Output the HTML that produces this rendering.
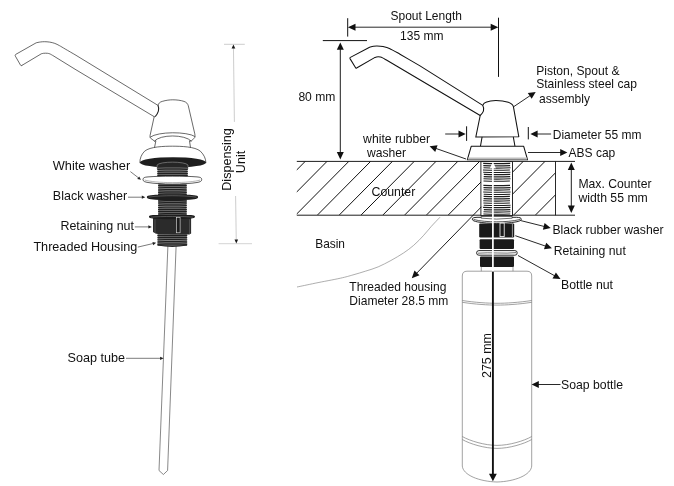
<!DOCTYPE html>
<html><head><meta charset="utf-8"><title>Soap dispenser diagram</title>
<style>
html,body{margin:0;padding:0;background:#fff;}
body{width:674px;height:486px;overflow:hidden;font-family:"Liberation Sans",sans-serif;}
svg{display:block;}
svg text{font-family:"Liberation Sans",sans-serif;fill:#111;}
</style></head><body>
<svg width="674" height="486" viewBox="0 0 674 486">
<defs>
<pattern id="thr" x="0" y="0" width="10" height="1.9" patternUnits="userSpaceOnUse">
<rect width="10" height="1.9" fill="#262626"/><rect y="0.2" width="10" height="0.55" fill="#8a8a8a"/>
</pattern>
<pattern id="thr2" x="0" y="162" width="10" height="2.15" patternUnits="userSpaceOnUse">
<rect width="10" height="2.15" fill="#fff"/><rect y="0.5" width="10" height="1.15" fill="#333"/>
</pattern>
<clipPath id="cclip"><rect x="296.8" y="161.4" width="258.7" height="53.9"/></clipPath>
</defs>
<rect width="674" height="486" fill="#fff"/>
<g id="all" opacity="0.999">

<path d="M167.9,246 L159,470.5 L163.4,474.5 L167.6,470.5 L176.1,246" stroke="#555" stroke-width="0.7" fill="#fff"/>
<rect x="157.8" y="233" width="29.0" height="12.199999999999989" fill="#9a9a9a"/>
<path d="M157.9,233.65 Q172.3,234.15 186.7,233.65" stroke="#212121" stroke-width="1.3" stroke-linecap="round" fill="none"/>
<path d="M157.9,235.50 Q172.3,236.00 186.7,235.50" stroke="#212121" stroke-width="1.3" stroke-linecap="round" fill="none"/>
<path d="M157.9,237.35 Q172.3,237.85 186.7,237.35" stroke="#212121" stroke-width="1.3" stroke-linecap="round" fill="none"/>
<path d="M157.9,239.20 Q172.3,239.70 186.7,239.20" stroke="#212121" stroke-width="1.3" stroke-linecap="round" fill="none"/>
<path d="M157.9,241.05 Q172.3,241.55 186.7,241.05" stroke="#212121" stroke-width="1.3" stroke-linecap="round" fill="none"/>
<path d="M157.9,242.90 Q172.3,243.40 186.7,242.90" stroke="#212121" stroke-width="1.3" stroke-linecap="round" fill="none"/>
<path d="M157.9,244.75 Q172.3,245.25 186.7,244.75" stroke="#212121" stroke-width="1.3" stroke-linecap="round" fill="none"/>
<path d="M157.6,244.6 Q172.3,247.4 187,244.6 L187,245.6 Q172.3,248.4 157.6,245.6Z" fill="#262626"/>
<rect x="158.5" y="181" width="27.900000000000006" height="35" fill="#9a9a9a"/>
<path d="M158.6,181.65 Q172.4,182.15 186.3,181.65" stroke="#212121" stroke-width="1.3" stroke-linecap="round" fill="none"/>
<path d="M158.6,183.50 Q172.4,184.00 186.3,183.50" stroke="#212121" stroke-width="1.3" stroke-linecap="round" fill="none"/>
<path d="M158.6,185.35 Q172.4,185.85 186.3,185.35" stroke="#212121" stroke-width="1.3" stroke-linecap="round" fill="none"/>
<path d="M158.6,187.20 Q172.4,187.70 186.3,187.20" stroke="#212121" stroke-width="1.3" stroke-linecap="round" fill="none"/>
<path d="M158.6,189.05 Q172.4,189.55 186.3,189.05" stroke="#212121" stroke-width="1.3" stroke-linecap="round" fill="none"/>
<path d="M158.6,190.90 Q172.4,191.40 186.3,190.90" stroke="#212121" stroke-width="1.3" stroke-linecap="round" fill="none"/>
<path d="M158.6,192.75 Q172.4,193.25 186.3,192.75" stroke="#212121" stroke-width="1.3" stroke-linecap="round" fill="none"/>
<path d="M158.6,194.60 Q172.4,195.10 186.3,194.60" stroke="#212121" stroke-width="1.3" stroke-linecap="round" fill="none"/>
<path d="M158.6,196.45 Q172.4,196.95 186.3,196.45" stroke="#212121" stroke-width="1.3" stroke-linecap="round" fill="none"/>
<path d="M158.6,198.30 Q172.4,198.80 186.3,198.30" stroke="#212121" stroke-width="1.3" stroke-linecap="round" fill="none"/>
<path d="M158.6,200.15 Q172.4,200.65 186.3,200.15" stroke="#212121" stroke-width="1.3" stroke-linecap="round" fill="none"/>
<path d="M158.6,202.00 Q172.4,202.50 186.3,202.00" stroke="#212121" stroke-width="1.3" stroke-linecap="round" fill="none"/>
<path d="M158.6,203.85 Q172.4,204.35 186.3,203.85" stroke="#212121" stroke-width="1.3" stroke-linecap="round" fill="none"/>
<path d="M158.6,205.70 Q172.4,206.20 186.3,205.70" stroke="#212121" stroke-width="1.3" stroke-linecap="round" fill="none"/>
<path d="M158.6,207.55 Q172.4,208.05 186.3,207.55" stroke="#212121" stroke-width="1.3" stroke-linecap="round" fill="none"/>
<path d="M158.6,209.40 Q172.4,209.90 186.3,209.40" stroke="#212121" stroke-width="1.3" stroke-linecap="round" fill="none"/>
<path d="M158.6,211.25 Q172.4,211.75 186.3,211.25" stroke="#212121" stroke-width="1.3" stroke-linecap="round" fill="none"/>
<path d="M158.6,213.10 Q172.4,213.60 186.3,213.10" stroke="#212121" stroke-width="1.3" stroke-linecap="round" fill="none"/>
<path d="M158.6,214.95 Q172.4,215.45 186.3,214.95" stroke="#212121" stroke-width="1.3" stroke-linecap="round" fill="none"/>
<path d="M21.9,65.4 C21.3,65.8 20.9,65.7 20.5,65.1 L15.4,56.2 C15,55.4 15.1,54.8 15.9,54.3 L36.2,42.8 C36.88,42.67 38.92,42.18 40.30,42.00 C41.68,41.82 42.93,41.68 44.50,41.70 C46.07,41.72 47.98,41.82 49.70,42.10 C51.42,42.38 53.18,42.82 54.80,43.40 C56.42,43.98 57.67,44.67 59.40,45.60 C61.13,46.53 62.60,47.48 65.20,49.00 C67.80,50.52 73.37,53.75 75.00,54.70 L158,105.4 M21.9,65.4 L41.3,53.8 C41.67,53.72 42.80,53.40 43.50,53.30 C44.20,53.20 44.82,53.20 45.50,53.20 C46.18,53.20 46.87,53.18 47.60,53.30 C48.33,53.42 49.00,53.52 49.90,53.90 C50.80,54.28 52.48,55.32 53.00,55.60 L75,69.2 L154.4,116.8" stroke="#2a2a2a" stroke-width="0.7" fill="none" stroke-linejoin="round" stroke-linecap="round"/>
<path d="M158,105.4 C158.4,103.2 160,102 162.2,101.4 C166,100.2 170,99.8 172.8,99.8 C177,99.8 181,100.4 184,101.4 C186.6,102.3 187.7,103.7 188.3,105.8 L194.8,133.9 C195.2,136.5 195,137.5 194.1,138.2 L191.2,141.1 L189.5,140.8 L190.5,147.6 M154.2,116.6 L150.1,135.3 C149.9,137 150,137.6 150.6,138.2 L154.5,141.1 L155.9,140.8 L154.5,147.6" stroke="#2a2a2a" stroke-width="0.7" fill="none" stroke-linejoin="round" stroke-linecap="round"/>
<path d="M158,105.4 C159.4,108.5 158.6,112.5 155.2,116.6" stroke="#222" stroke-width="1.1" fill="none"/>
<path d="M150.4,137 C158,131.4 187,131.4 194.9,136.4 M154.5,141 C160,134.2 185,134.2 191.2,141" stroke="#2a2a2a" stroke-width="0.7" fill="none" stroke-linejoin="round" stroke-linecap="round"/>
<path d="M139.9,162.7 C139.8,158.4 141.2,154.8 144.6,151.2 C150,146.6 164,146.2 172.5,146.2 C181,146.2 195,146.6 200.4,151.2 C204,154.8 205.8,158.4 205.9,162.7" stroke="#2a2a2a" stroke-width="0.7" fill="#fff" stroke-linejoin="round" stroke-linecap="round"/>
<ellipse cx="173" cy="162.4" rx="33.1" ry="5.2" fill="#1e1e1e"/>
<path d="M157.1,169 L157.1,165 C160,161.2 185,161.2 188,165 L188,169Z" fill="#262626" stroke="#9a9a9a" stroke-width="0.6"/>
<rect x="157.7" y="167.2" width="29.700000000000017" height="10.0" fill="#9a9a9a"/>
<path d="M157.8,167.85 Q172.6,168.35 187.3,167.85" stroke="#212121" stroke-width="1.3" stroke-linecap="round" fill="none"/>
<path d="M157.8,169.70 Q172.6,170.20 187.3,169.70" stroke="#212121" stroke-width="1.3" stroke-linecap="round" fill="none"/>
<path d="M157.8,171.55 Q172.6,172.05 187.3,171.55" stroke="#212121" stroke-width="1.3" stroke-linecap="round" fill="none"/>
<path d="M157.8,173.40 Q172.6,173.90 187.3,173.40" stroke="#212121" stroke-width="1.3" stroke-linecap="round" fill="none"/>
<path d="M157.8,175.25 Q172.6,175.75 187.3,175.25" stroke="#212121" stroke-width="1.3" stroke-linecap="round" fill="none"/>
<path d="M157.8,177.10 Q172.6,177.60 187.3,177.10" stroke="#212121" stroke-width="1.3" stroke-linecap="round" fill="none"/>
<path d="M143,179.6 C143,177.6 144.5,177.2 148,176.9 C160,175.9 185,175.9 197,176.9 C200.3,177.2 201.7,177.6 201.7,179.6 C201.7,181.4 200,182 197,182.5 C185,184.6 160,184.6 148,182.5 C145,182 143,181.4 143,179.6Z" fill="#fff" stroke="#2a2a2a" stroke-width="0.75"/>
<path d="M144.6,180 C150,181.6 160,182.6 172.3,182.6 C185,182.6 195,181.6 200.2,180" stroke="#777" stroke-width="0.55" fill="none"/>
<path d="M146.8,197 C146.8,195.6 148.5,195.4 151,195.2 C162,194.4 183,194.4 194,195.2 C196.5,195.4 198.1,195.6 198.1,197 C198.1,198.4 196.5,198.9 194,199.3 C183,200.6 162,200.6 151,199.3 C148.5,198.9 146.8,198.4 146.8,197Z" fill="#1e1e1e"/>
<path d="M148.6,197.2 C155,196 165,195.7 172.3,195.7 C180,195.7 190,196 196.4,197.2" stroke="#8a8a8a" stroke-width="0.5" fill="none"/>
<path d="M153,218 L191.1,218 L191.1,233.4 L189.4,234.5 L156,233.8 L153,232Z" fill="#2b2b2b"/>
<path d="M148.9,216.8 C148.9,215.6 150.5,215.3 153,215.1 C164,214.5 180,214.5 191,215.1 C193.5,215.3 195,215.6 195,216.8 C195,218 193,218.3 191.2,218.6 C180,219.6 164,219.6 152.8,218.6 C150.6,218.3 148.9,218 148.9,216.8Z" fill="#1c1c1c"/>
<path d="M150.8,217.2 C160,216.2 186,216.2 193.2,217.2" stroke="#8a8a8a" stroke-width="0.5" fill="none"/>
<rect x="176.6" y="217.6" width="3.5" height="15.2" fill="#1c1c1c" stroke="#e6e6e6" stroke-width="0.6"/>
<line x1="155" y1="219.4" x2="155" y2="233" stroke="#777" stroke-width="0.5"/>
<line x1="189.6" y1="219.4" x2="189.6" y2="234" stroke="#777" stroke-width="0.5"/>
<text x="52.8" y="169.7" font-size="12.6" textLength="77.4" lengthAdjust="spacingAndGlyphs" >White washer</text>
<text x="52.8" y="200.4" font-size="12.6" textLength="74.4" lengthAdjust="spacingAndGlyphs" >Black washer</text>
<text x="60.4" y="230.2" font-size="12.6" textLength="73.6" lengthAdjust="spacingAndGlyphs" >Retaining nut</text>
<text x="33.4" y="250.9" font-size="12.6" textLength="103.9" lengthAdjust="spacingAndGlyphs" >Threaded Housing</text>
<text x="67.5" y="361.5" font-size="12.6" textLength="57.5" lengthAdjust="spacingAndGlyphs" >Soap tube</text>
<line x1="130.40" y1="171.60" x2="138.79" y2="178.09" stroke="#222" stroke-width="0.6"/><polygon points="141.00,179.80 137.25,178.92 139.21,176.39" fill="#222"/>
<line x1="128.00" y1="197.20" x2="142.50" y2="197.20" stroke="#222" stroke-width="0.6"/><polygon points="145.30,197.20 141.80,198.80 141.80,195.60" fill="#222"/>
<line x1="134.80" y1="226.90" x2="149.10" y2="226.90" stroke="#222" stroke-width="0.6"/><polygon points="151.90,226.90 148.40,228.50 148.40,225.30" fill="#222"/>
<line x1="137.80" y1="247.10" x2="153.47" y2="243.44" stroke="#222" stroke-width="0.6"/><polygon points="156.20,242.80 153.16,245.15 152.43,242.04" fill="#222"/>
<line x1="126.00" y1="358.30" x2="160.80" y2="358.30" stroke="#222" stroke-width="0.6"/><polygon points="163.60,358.30 160.10,359.90 160.10,356.70" fill="#222"/>
<line x1="224" y1="44.3" x2="244.8" y2="44.3" stroke="#9a9a9a" stroke-width="0.5"/>
<line x1="218.6" y1="243.7" x2="252" y2="243.7" stroke="#a8a8a8" stroke-width="0.5"/>
<line x1="234.4" y1="121.9" x2="233.45" y2="47" stroke="#9a9a9a" stroke-width="0.5"/>
<polygon points="233.4,44.6 231.6,48.6 235.3,48.6" fill="#1a1a1a"/>
<line x1="235.6" y1="196" x2="236.25" y2="240.5" stroke="#9a9a9a" stroke-width="0.5"/>
<polygon points="236.3,243.5 234.5,239.6 238.1,239.6" fill="#1a1a1a"/>
<text transform="translate(230.6,159.5) rotate(-90)" text-anchor="middle" font-size="12.6" textLength="62.5" lengthAdjust="spacingAndGlyphs">Dispensing</text>
<text transform="translate(245.4,162) rotate(-90)" text-anchor="middle" font-size="12.6">Unit</text>
<g clip-path="url(#cclip)" stroke="#111" stroke-width="1.0">
<line x1="262.0" y1="161" x2="208.6" y2="214.9"/>
<line x1="283.8" y1="161" x2="230.4" y2="214.9"/>
<line x1="305.6" y1="161" x2="252.2" y2="214.9"/>
<line x1="327.4" y1="161" x2="274.0" y2="214.9"/>
<line x1="349.2" y1="161" x2="295.8" y2="214.9"/>
<line x1="371.0" y1="161" x2="317.6" y2="214.9"/>
<line x1="392.8" y1="161" x2="339.4" y2="214.9"/>
<line x1="414.6" y1="161" x2="361.2" y2="214.9"/>
<line x1="436.4" y1="161" x2="383.0" y2="214.9"/>
<line x1="458.2" y1="161" x2="404.8" y2="214.9"/>
<line x1="480.0" y1="161" x2="426.6" y2="214.9"/>
<line x1="501.8" y1="161" x2="448.4" y2="214.9"/>
<line x1="523.6" y1="161" x2="512.5" y2="172.2"/>
<line x1="545.4" y1="161" x2="492.0" y2="214.9"/>
<line x1="567.2" y1="161" x2="513.8" y2="214.9"/>
<line x1="589.0" y1="161" x2="535.6" y2="214.9"/>
</g>
<line x1="296.8" y1="161.4" x2="575" y2="161.4" stroke="#111" stroke-width="0.95"/>
<line x1="296.8" y1="215.2" x2="575" y2="215.2" stroke="#111" stroke-width="0.95"/>
<line x1="555.5" y1="161.4" x2="555.5" y2="215.3" stroke="#111" stroke-width="0.9"/>
<path d="M440.0,217.2 C438.5,218.8 433.9,223.5 431.2,226.5 C428.5,229.5 426.6,232.2 423.7,235.3 C420.8,238.5 417.0,242.5 413.6,245.4 C410.2,248.3 407.3,250.5 403.5,253.0 C399.7,255.5 395.1,258.2 390.9,260.5 C386.7,262.8 382.5,265.0 378.3,266.8 C374.1,268.6 369.9,269.8 365.7,271.1 C361.5,272.5 357.2,273.7 353.0,274.9 C348.8,276.1 346.7,276.8 340.4,278.2 C334.1,279.6 322.4,281.7 315.2,283.2 C308.0,284.7 300.0,286.4 297.0,287.0" stroke="#777" stroke-width="0.6" fill="none"/>
<rect x="480.9" y="161.6" width="31.6" height="54" fill="#fff" stroke="#111" stroke-width="0.9"/>
<path d="M483.2,163.40 Q496.7,163.90 510.2,163.40" stroke="#1c1c1c" stroke-width="1.15" fill="none"/>
<path d="M483.3,165.60 Q496.7,166.10 510.1,165.60" stroke="#1c1c1c" stroke-width="1.15" fill="none"/>
<path d="M483.5,167.80 Q496.7,168.30 510.5,167.80" stroke="#1c1c1c" stroke-width="1.15" fill="none"/>
<path d="M483.0,170.00 Q496.7,170.50 509.9,170.00" stroke="#1c1c1c" stroke-width="1.15" fill="none"/>
<path d="M483.2,172.20 Q496.7,172.70 510.4,172.20" stroke="#1c1c1c" stroke-width="1.15" fill="none"/>
<path d="M483.8,174.40 Q496.7,174.90 510.2,174.40" stroke="#1c1c1c" stroke-width="1.15" fill="none"/>
<path d="M483.7,176.60 Q496.7,177.10 510.2,176.60" stroke="#1c1c1c" stroke-width="1.15" fill="none"/>
<path d="M483.5,178.80 Q496.7,179.30 510.5,178.80" stroke="#1c1c1c" stroke-width="1.15" fill="none"/>
<path d="M483.5,181.00 Q496.7,181.50 509.9,181.00" stroke="#1c1c1c" stroke-width="1.15" fill="none"/>
<path d="M483.4,185.40 Q496.7,185.90 510.0,185.40" stroke="#1c1c1c" stroke-width="1.15" fill="none"/>
<path d="M483.5,187.60 Q496.7,188.10 510.5,187.60" stroke="#1c1c1c" stroke-width="1.15" fill="none"/>
<path d="M483.6,189.80 Q496.7,190.30 510.1,189.80" stroke="#1c1c1c" stroke-width="1.15" fill="none"/>
<path d="M483.2,192.00 Q496.7,192.50 510.6,192.00" stroke="#1c1c1c" stroke-width="1.15" fill="none"/>
<path d="M483.7,194.20 Q496.7,194.70 510.2,194.20" stroke="#1c1c1c" stroke-width="1.15" fill="none"/>
<path d="M483.6,196.40 Q496.7,196.90 509.9,196.40" stroke="#1c1c1c" stroke-width="1.15" fill="none"/>
<path d="M483.6,198.60 Q496.7,199.10 509.9,198.60" stroke="#1c1c1c" stroke-width="1.15" fill="none"/>
<path d="M483.3,200.80 Q496.7,201.30 510.0,200.80" stroke="#1c1c1c" stroke-width="1.15" fill="none"/>
<path d="M483.4,203.00 Q496.7,203.50 509.9,203.00" stroke="#1c1c1c" stroke-width="1.15" fill="none"/>
<path d="M483.7,205.20 Q496.7,205.70 510.5,205.20" stroke="#1c1c1c" stroke-width="1.15" fill="none"/>
<path d="M483.1,207.40 Q496.7,207.90 510.4,207.40" stroke="#1c1c1c" stroke-width="1.15" fill="none"/>
<path d="M483.8,209.60 Q496.7,210.10 510.3,209.60" stroke="#1c1c1c" stroke-width="1.15" fill="none"/>
<path d="M483.5,211.80 Q496.7,212.30 510.4,211.80" stroke="#1c1c1c" stroke-width="1.15" fill="none"/>
<path d="M483.4,214.00 Q496.7,214.50 510.3,214.00" stroke="#1c1c1c" stroke-width="1.15" fill="none"/>
<path d="M356.6,68.0 C356.2,68.3 355.9,68.2 355.6,67.7 L350,58.6 C349.7,58 349.8,57.7 350.4,57.4 L369.6,47.3 C370.25,47.13 372.27,46.52 373.50,46.30 C374.73,46.08 375.42,45.95 377.00,46.00 C378.58,46.05 380.93,46.20 383.00,46.60 C385.07,47.00 386.57,47.13 389.40,48.40 C392.23,49.67 394.90,51.28 400.00,54.20 C405.10,57.12 416.67,63.95 420.00,65.90 L482.8,105.4 M356.6,68.0 L374.6,57.6 C374.92,57.50 375.88,57.13 376.50,57.00 C377.12,56.87 377.65,56.80 378.30,56.80 C378.95,56.80 379.68,56.82 380.40,57.00 C381.12,57.18 381.67,57.43 382.60,57.90 C383.53,58.37 385.43,59.48 386.00,59.80 L480.2,115.5" stroke="#111" stroke-width="1.05" fill="none" stroke-linejoin="round" stroke-linecap="round"/>
<path d="M482.8,105.4 C483.5,103.5 484.5,102.8 485.9,102.3 C489,101 492.5,100.5 495.9,100.5 C501,100.5 505,101.2 508.3,102.3 C511.5,103.4 512.8,104.5 513.4,106.7 L518.8,136.7 L475.8,137.1 L480.2,115.5 C484.5,111.5 484.4,108.5 482.8,105.4" stroke="#111" stroke-width="1.05" fill="#fff" stroke-linejoin="round" stroke-linecap="round"/>
<path d="M482,137.3 L480.5,146 M513.4,137.3 L514.9,146" stroke="#111" stroke-width="1.05" fill="none" stroke-linejoin="round" stroke-linecap="round"/>
<path d="M471.2,146.3 L523.7,146.3 L527.6,159.8 L467.3,159.8Z" stroke="#111" stroke-width="1.05" fill="#fff" stroke-linejoin="round" stroke-linecap="round"/>
<path d="M468.2,157.6 L526.8,157.6 L527.4,159.6 L467.6,159.6Z" fill="#bdbdbd"/>
<g transform="translate(0,0.6)">
<path d="M472.3,218.6 C472.3,217.2 474,216.9 477,216.7 L516.6,216.7 C519.6,216.9 521.3,217.2 521.3,218.6 C521.3,220 519,220.7 516,221.3 C505,223.3 488,223.3 477.6,221.3 C474.6,220.7 472.3,220 472.3,218.6Z" fill="#fff" stroke="#111" stroke-width="0.9"/>
<path d="M473.6,218.9 C480,220.6 488,221.2 496.8,221.2 C505,221.2 513,220.6 520,218.9" stroke="#111" stroke-width="0.7" fill="none"/>
<path d="M481.2,215.9 L481.2,217.6 Q496.7,219.4 512.2,217.6 L512.2,215.9Z" fill="#fff" stroke="#111" stroke-width="0.6"/>
</g>
<rect x="479.2" y="223.4" width="35" height="14" rx="1.2" fill="#1a1a1a"/>
<rect x="500" y="223" width="4.2" height="13.6" fill="none" stroke="#fff" stroke-width="0.8"/>
<line x1="512.4" y1="224" x2="512.4" y2="237" stroke="#eee" stroke-width="0.6"/>
<rect x="479.6" y="239.2" width="34.4" height="9.8" rx="1" fill="#1a1a1a"/>
<rect x="480" y="256.4" width="34" height="10.6" rx="1" fill="#1a1a1a"/>
<rect x="476.6" y="250.6" width="40.6" height="4.6" rx="2.3" fill="#fff" stroke="#111" stroke-width="0.9"/>
<path d="M478,253.2 C490,252 505,254 516,252.6" stroke="#111" stroke-width="0.6" fill="none"/>
<path d="M481.3,266.8 L481.3,271.2 M513,266.8 L513,271.2" stroke="#7a7a7a" stroke-width="0.7" fill="none"/>
<path d="M462.3,466 L462.3,276 Q462.3,271.2 467,271.2 L527,271.2 Q531.7,271.2 531.7,276 L531.7,466 C531,475 515,481.5 497,482 C479,481.5 463,475 462.3,466Z" stroke="#7a7a7a" stroke-width="0.7" fill="none"/>
<path d="M462.3,300.5 C475,302.5 488,303.3 497,303.3 C506,303.3 519,302.5 531.7,300.5 M462.3,302.3 C475,304.3 488,305.1 497,305.1 C506,305.1 519,304.3 531.7,302.3" stroke="#7a7a7a" stroke-width="0.7" fill="none"/>
<path d="M462.3,436.5 C470,441 485,445.4 497,445.4 C509,445.4 524,441 531.7,436.5 M462.3,439.5 C470,444 485,448.4 497,448.4 C509,448.4 524,444 531.7,439.5" stroke="#7a7a7a" stroke-width="0.7" fill="none"/>
<line x1="492.9" y1="271.8" x2="492.9" y2="476" stroke="#111" stroke-width="1.9"/>
<polygon points="492.9,481.2 489,473.8 496.8,473.8" fill="#111"/>
<line x1="492.9" y1="166" x2="492.9" y2="271" stroke="#fff" stroke-width="1.7"/>
<polygon points="492.9,161.8 489.9,168.2 495.9,168.2" fill="#fff"/>
<text transform="translate(490.8,355.5) rotate(-90)" text-anchor="middle" font-size="12.1" textLength="45" lengthAdjust="spacingAndGlyphs">275 mm</text>
<line x1="347.7" y1="18.2" x2="347.7" y2="36.6" stroke="#111" stroke-width="1.0"/>
<line x1="498.5" y1="17.7" x2="498.5" y2="76.9" stroke="#111" stroke-width="1.0"/>
<polygon points="347.90,27.20 355.50,30.70 355.50,23.70" fill="#111"/><line x1="353.98" y1="27.20" x2="492.22" y2="27.20" stroke="#111" stroke-width="0.9"/><polygon points="498.30,27.20 490.70,30.70 490.70,23.70" fill="#111"/>
<text x="390.5" y="20.2" font-size="12.1" textLength="71.4" lengthAdjust="spacingAndGlyphs" >Spout Length</text>
<text x="400.1" y="40.4" font-size="12.1" textLength="43.4" lengthAdjust="spacingAndGlyphs" >135 mm</text>
<line x1="322.8" y1="40.6" x2="367" y2="40.6" stroke="#111" stroke-width="1.0"/>
<polygon points="340.30,42.40 336.80,49.80 343.80,49.80" fill="#111"/><line x1="340.30" y1="48.32" x2="340.30" y2="153.48" stroke="#111" stroke-width="0.95"/><polygon points="340.30,159.40 336.80,152.00 343.80,152.00" fill="#111"/>
<text x="298.4" y="101.4" font-size="12.1" textLength="37" lengthAdjust="spacingAndGlyphs" >80 mm</text>
<line x1="466.6" y1="126.3" x2="466.6" y2="140.9" stroke="#111" stroke-width="1.0"/>
<line x1="528.3" y1="127" x2="528.3" y2="139.4" stroke="#111" stroke-width="1.0"/>
<line x1="445.20" y1="134.00" x2="459.94" y2="134.00" stroke="#111" stroke-width="0.9"/><polygon points="465.70,134.00 458.50,137.50 458.50,130.50" fill="#111"/>
<line x1="551.10" y1="134.00" x2="536.16" y2="134.00" stroke="#111" stroke-width="0.9"/><polygon points="530.40,134.00 537.60,130.50 537.60,137.50" fill="#111"/>
<text x="552.8" y="139.2" font-size="12.1" textLength="88.6" lengthAdjust="spacingAndGlyphs" >Diameter 55 mm</text>
<line x1="528.00" y1="152.50" x2="561.64" y2="152.50" stroke="#111" stroke-width="0.9"/><polygon points="567.40,152.50 560.20,156.00 560.20,149.00" fill="#111"/>
<text x="568.5" y="156.9" font-size="12.1" textLength="46.8" lengthAdjust="spacingAndGlyphs" >ABS cap</text>
<line x1="513.70" y1="106.70" x2="530.92" y2="95.12" stroke="#111" stroke-width="0.9"/><polygon points="535.70,91.90 531.68,98.82 527.77,93.01" fill="#111"/>
<text x="536.2" y="75" font-size="12.1" textLength="83.3" lengthAdjust="spacingAndGlyphs" >Piston, Spout &amp;</text>
<text x="536.2" y="88.2" font-size="12.1" textLength="100.7" lengthAdjust="spacingAndGlyphs" >Stainless steel cap</text>
<text x="539" y="103" font-size="12.1" textLength="51" lengthAdjust="spacingAndGlyphs" >assembly</text>
<text x="363.1" y="142.7" font-size="12.1" textLength="67.1" lengthAdjust="spacingAndGlyphs" >white rubber</text>
<text x="366.9" y="156.6" font-size="12.1" textLength="39.1" lengthAdjust="spacingAndGlyphs" >washer</text>
<line x1="466.00" y1="159.00" x2="435.03" y2="148.11" stroke="#111" stroke-width="0.9"/><polygon points="429.60,146.20 437.55,145.29 435.23,151.89" fill="#111"/>
<text x="371.5" y="196.2" font-size="12.1" textLength="43.8" lengthAdjust="spacingAndGlyphs" >Counter</text>
<polygon points="571.30,162.50 567.80,169.90 574.80,169.90" fill="#111"/><line x1="571.30" y1="168.42" x2="571.30" y2="207.08" stroke="#111" stroke-width="0.95"/><polygon points="571.30,213.00 567.80,205.60 574.80,205.60" fill="#111"/>
<text x="578.4" y="187.7" font-size="12.1" textLength="73.1" lengthAdjust="spacingAndGlyphs" >Max. Counter</text>
<text x="578.4" y="201.7" font-size="12.1" textLength="69.4" lengthAdjust="spacingAndGlyphs" >width 55 mm</text>
<line x1="520.40" y1="220.50" x2="545.11" y2="226.70" stroke="#111" stroke-width="0.9"/><polygon points="550.70,228.10 542.86,229.74 544.57,222.95" fill="#111"/>
<text x="552.4" y="233.6" font-size="12.1" textLength="111.2" lengthAdjust="spacingAndGlyphs" >Black rubber washer</text>
<line x1="515.30" y1="235.70" x2="546.45" y2="246.43" stroke="#111" stroke-width="0.9"/><polygon points="551.90,248.30 543.95,249.27 546.23,242.65" fill="#111"/>
<text x="553.7" y="255.1" font-size="12.1" textLength="72.1" lengthAdjust="spacingAndGlyphs" >Retaining nut</text>
<line x1="518.00" y1="255.50" x2="555.46" y2="276.21" stroke="#111" stroke-width="0.9"/><polygon points="560.50,279.00 552.51,278.58 555.89,272.45" fill="#111"/>
<text x="561" y="289" font-size="12.1" textLength="52" lengthAdjust="spacingAndGlyphs" >Bottle nut</text>
<line x1="560.50" y1="384.50" x2="537.36" y2="384.50" stroke="#111" stroke-width="0.9"/><polygon points="531.60,384.50 538.80,381.00 538.80,388.00" fill="#111"/>
<text x="561" y="388.5" font-size="12.1" textLength="62" lengthAdjust="spacingAndGlyphs" >Soap bottle</text>
<text x="315.2" y="248" font-size="12.1" textLength="29.8" lengthAdjust="spacingAndGlyphs" >Basin</text>
<line x1="481.40" y1="206.80" x2="415.93" y2="273.96" stroke="#111" stroke-width="0.95"/><polygon points="411.80,278.20 414.46,270.46 419.47,275.34" fill="#111"/>
<text x="349.3" y="290.9" font-size="12.1" textLength="97.1" lengthAdjust="spacingAndGlyphs" >Threaded housing</text>
<text x="349.3" y="304.8" font-size="12.1" textLength="99.1" lengthAdjust="spacingAndGlyphs" >Diameter 28.5 mm</text>
</g></svg></body></html>
